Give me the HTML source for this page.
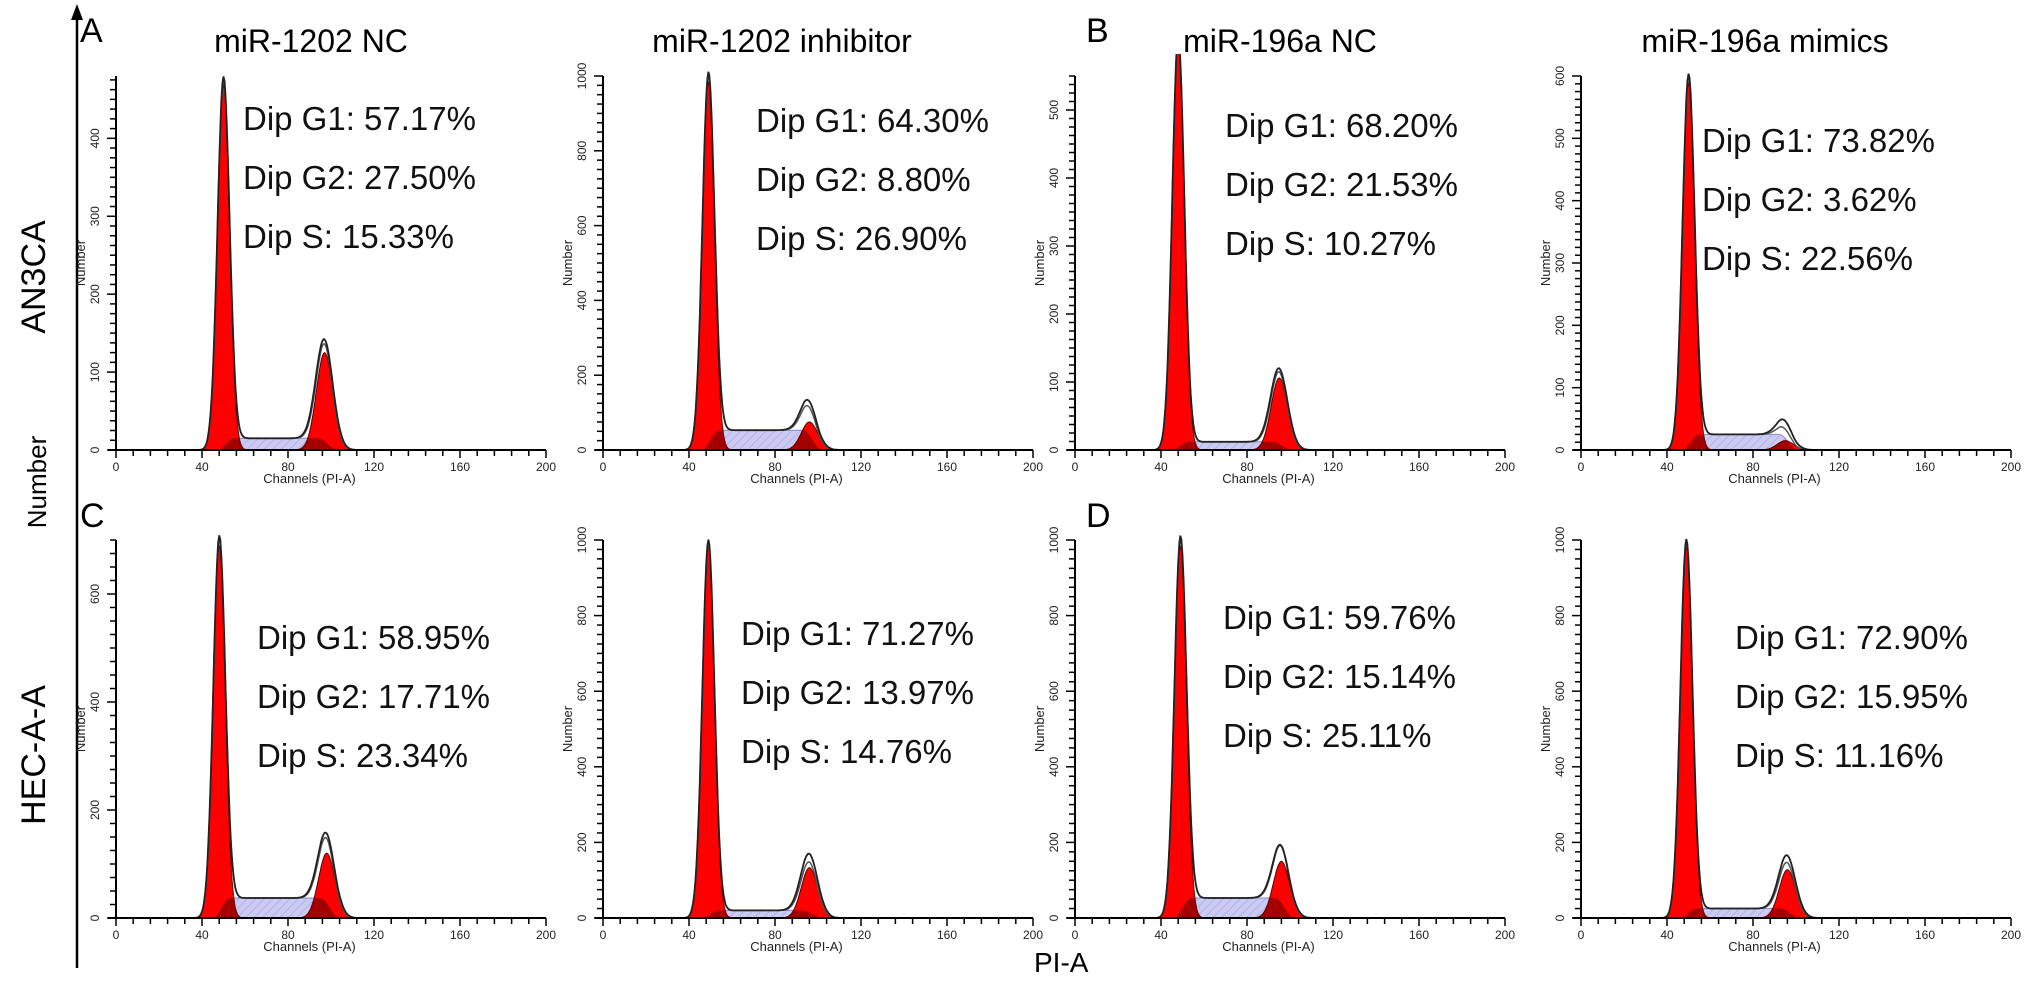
<!DOCTYPE html>
<html><head><meta charset="utf-8"><style>
html,body{margin:0;padding:0;background:#fff;}
svg{display:block;font-family:"Liberation Sans",Arial,sans-serif;}
</style></head><body>
<svg id="fig" width="2031" height="981" viewBox="0 0 2031 981">
<defs>
<pattern id="hatch" width="6" height="6" patternUnits="userSpaceOnUse" patternTransform="rotate(45)">
<rect width="6" height="6" fill="#cbcaf3"/><line x1="0" y1="0" x2="0" y2="6" stroke="#b4b2e6" stroke-width="2"/>
</pattern>
</defs>
<g>
<line x1="77" y1="14" x2="77" y2="968" stroke="#000" stroke-width="2.5"/>
<polygon points="77,4 71,20 83,20" fill="#000"/>
</g>
<text x="46" y="482" font-size="26" text-anchor="middle" transform="rotate(-90 46 482)">Number</text>
<text x="1034" y="972" font-size="28">PI-A</text>
<text x="80" y="42" font-size="34">A</text>
<text x="1086" y="42" font-size="34">B</text>
<text x="80" y="527" font-size="34">C</text>
<text x="1086" y="527" font-size="34">D</text>
<g id="panels"></g>
</svg>
<script>
const panelTitles = ['miR-1202 NC','miR-1202 inhibitor','miR-196a NC','miR-196a mimics'];
const rowLabels = ['AN3CA','HEC-A-A'];
const g1Text = ['57.17%','64.30%','68.20%','73.82%','58.95%','71.27%','59.76%','72.90%'];
const g2Text = ['27.50%','8.80%','21.53%','3.62%','17.71%','13.97%','15.14%','15.95%'];
const sText  = ['15.33%','26.90%','10.27%','22.56%','23.34%','14.76%','25.11%','11.16%'];
const yMax   = [480,1000,550,600,700,1000,1000,1000];
const yStep  = [100,200,100,100,200,200,200,200];
const g1Peak = [470,985,600,590,690,985,985,985];
const g1Chan = [50,49,48,50,48,49,49,49];
const g2Peak = [125,75,106,15,120,133,150,128];
const g2Obs  = [137,112,116,38,144,163,173,157];
const g2Chan = [97,96,95,95,98,96,96,96];
const sLevel = [15,53,12,25,37,20,53,25];
const xTicks = [0,40,80,120,160,200];

const NS='http://www.w3.org/2000/svg';
const root=document.getElementById('panels');
function mk(tag,attrs,parent){const e=document.createElementNS(NS,tag);for(const k in attrs)e.setAttribute(k,attrs[k]);(parent||root).appendChild(e);return e;}
const colX=[116,603,1075,1581];
const rowAxisY=[450,918], rowTop=[76,540];
const titleX=[311,782,1280,1765];
const textX=[243,756,1225,1702,257,741,1223,1735];
const textY=[130,132,137,152,649,645,629,649];
const CH=2.15;

panelTitles.forEach((t,i)=>{
  const e=mk('text',{x:titleX[i],y:52,'font-size':32,'text-anchor':'middle'});
  
  
  e.textContent=t;
});
rowLabels.forEach((t,i)=>{
  const cy=[277,755][i];
  const e=mk('text',{x:36,y:cy,'font-size':34,'text-anchor':'middle','dominant-baseline':'middle',transform:'rotate(-90 36 '+cy+')'});
  
  
  e.textContent=t;
});

function gauss(c,mu,sd){return Math.exp(-0.5*((c-mu)/sd)*((c-mu)/sd));}
function smooth(a,b,c){let t=(c-a)/(b-a);t=Math.max(0,Math.min(1,t));return t*t*(3-2*t);}

for(let p=0;p<8;p++){
  const row=Math.floor(p/4), col=p%4;
  const x0=colX[col], ay=rowAxisY[row], top=rowTop[row];
  const h=ay-top, k=h/yMax[p];
  const xs=c=>x0+c*CH, ys=v=>ay-v*k;
  const g=mk('g',{});
  
  
  const cid='clip'+p;
  const cp=mk('clipPath',{id:cid},g);
  mk('rect',{x:x0,y:top-22,width:200*CH,height:h+22},cp);
  const m1=g1Chan[p], m2=g2Chan[p], sd1=2.8, sd2=3.8;
  const S=c=>sLevel[p]*smooth(m1-3,m1+5,c)*(1-smooth(m2-3,m2+6,c));
  const G1=c=>g1Peak[p]*gauss(c,m1,sd1);
  const G2=c=>g2Peak[p]*gauss(c,m2,sd2);
  const G2o=c=>Math.max(g2Peak[p],g2Obs[p]-sLevel[p]*0.4)*gauss(c,m2,sd2*1.05);
  const pts=f=>{let a=[];for(let c=30;c<=130;c+=0.5)a.push(xs(c).toFixed(1)+','+ys(f(c)).toFixed(1));return a;};
  const area=f=>'M'+xs(30)+','+ay+' L'+pts(f).join(' L')+' L'+xs(130)+','+ay+' Z';
  const pg=mk('g',{'clip-path':'url(#'+cid+')'},g);
  const sp=mk('path',{d:area(S),fill:'url(#hatch)',stroke:'#8a88c8','stroke-width':1},pg);
  
  
  const r1=mk('path',{d:area(G1),fill:'#ff0000',stroke:'#5a0000','stroke-width':1},pg);
  
  
  const r2=mk('path',{d:area(G2),fill:'#ff0000',stroke:'#5a0000','stroke-width':1},pg);
  
  
  const oc=mk('clipPath',{id:'ov'+p},g);
  mk('path',{d:area(G1)},oc);mk('path',{d:area(G2)},oc);
  const ov=mk('path',{d:area(S),fill:'rgba(90,0,0,0.55)','clip-path':'url(#ov'+p+')'},pg);
  
  
  const fit=mk('polyline',{points:pts(c=>G1(c)+G2(c)+S(c)).join(' '),fill:'none',stroke:'#555','stroke-width':1.5},pg);
  
  
  const obs=mk('polyline',{points:pts(c=>G1(c)*1.01+G2o(c)+S(c)).join(' '),fill:'none',stroke:'#222','stroke-width':1.8},pg);
  
  
  const ax=mk('g',{stroke:'#000','stroke-width':2},g);
  
  
  mk('line',{x1:x0,y1:top,x2:x0,y2:ay},ax);
  mk('line',{x1:x0-8,y1:ay,x2:x0+200*CH,y2:ay},ax);
  for(let c=0;c<=200;c+=8){const maj=(c%40===0);mk('line',{x1:xs(c),y1:ay,x2:xs(c),y2:ay+(maj?8:6),'stroke-width':1.5},ax);}
  const minor=yStep[p]/8;
  for(let v=0;v<=yMax[p]+0.01;v+=minor){const maj=Math.abs(v/yStep[p]-Math.round(v/yStep[p]))<0.01;mk('line',{x1:x0-(maj?9:6),y1:ys(v),x2:x0,y2:ys(v),'stroke-width':1.5},ax);}
  for(let v=0;v<=yMax[p];v+=yStep[p]){
    const tx=x0-17,ty=ys(v);
    const e=mk('text',{x:tx,y:ty,'font-size':12,'text-anchor':'middle',fill:'#222',transform:'rotate(-90 '+tx+' '+ty+')'},g);
    
    
    e.textContent=v;
  }
  xTicks.forEach(c=>{
    const e=mk('text',{x:xs(c),y:ay+21,'font-size':12,'text-anchor':'middle',fill:'#222'},g);
    
    
    e.textContent=c;
  });
  const xl=mk('text',{x:xs(90),y:ay+33,'font-size':13,'text-anchor':'middle',fill:'#222'},g);
  
  
  xl.textContent='Channels (PI-A)';
  const ty=(top+ay)/2, tx=x0-31;
  const yl=mk('text',{x:tx,y:ty,'font-size':13,'text-anchor':'middle',fill:'#222',transform:'rotate(-90 '+tx+' '+ty+')'},g);
  
  
  yl.textContent='Number';
  const labs=['Dip G1: '+g1Text[p],'Dip G2: '+g2Text[p],'Dip S: '+sText[p]];
  labs.forEach((s,j)=>{
    const e=mk('text',{x:textX[p],y:textY[p]+j*59,'font-size':33,fill:'#111'},g);
    
    
    e.textContent=s;
  });
}
</script>
</body></html>
